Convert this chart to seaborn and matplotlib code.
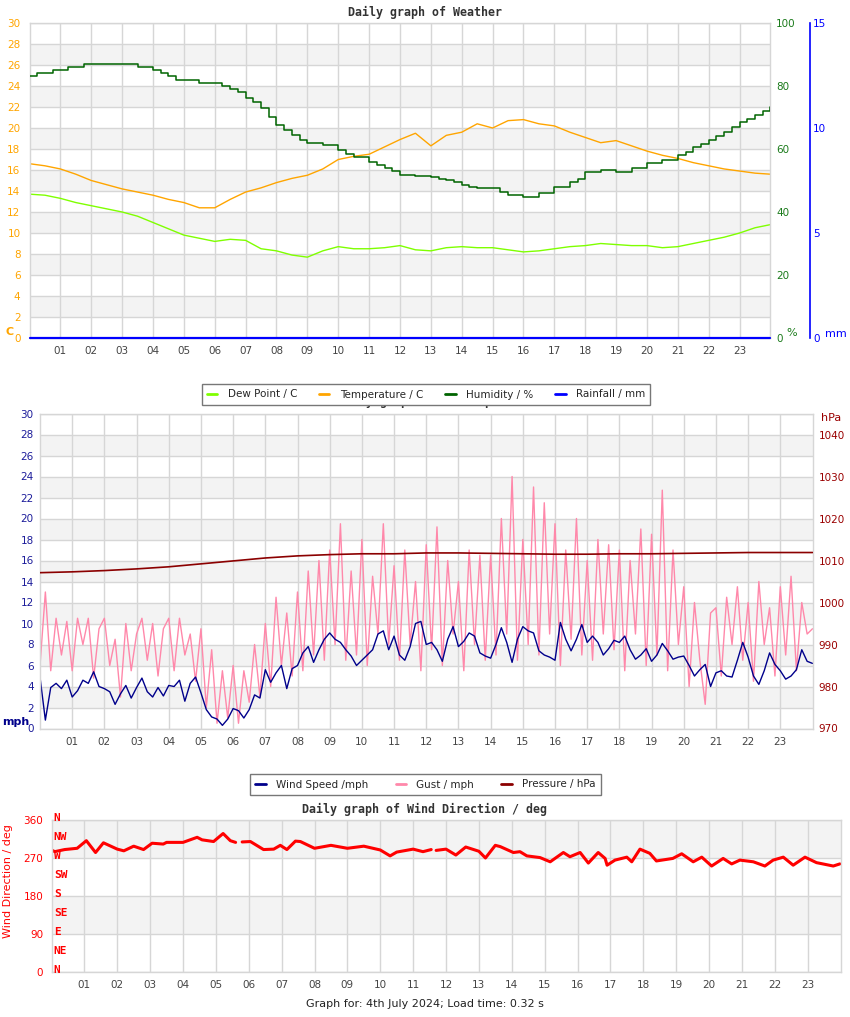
import numpy as np
import pandas as pd
import seaborn as sns
import matplotlib.pyplot as plt
from matplotlib.lines import Line2D
from matplotlib.transforms import blended_transform_factory

# ---------------- data ----------------
# weather chart, half-hourly readings
half_hours = np.arange(0, 24.01, 0.5)
temperature = [16.6, 16.4, 16.1, 15.6, 15.0, 14.6, 14.2, 13.9, 13.6, 13.2,
               12.9, 12.4, 12.4, 13.2, 13.9, 14.3, 14.8, 15.2, 15.5, 16.1,
               17.0, 17.3, 17.5, 18.2, 18.9, 19.5, 18.3, 19.3, 19.6, 20.4,
               20.0, 20.7, 20.8, 20.4, 20.2, 19.6, 19.1, 18.6, 18.8, 18.3,
               17.8, 17.4, 17.1, 16.7, 16.4, 16.1, 15.9, 15.7, 15.6]
dew_point = [13.7, 13.6, 13.3, 12.9, 12.6, 12.3, 12.0, 11.6, 11.0, 10.4,
             9.8, 9.5, 9.2, 9.4, 9.3, 8.5, 8.3, 7.9, 7.7, 8.3,
             8.7, 8.5, 8.5, 8.6, 8.8, 8.4, 8.3, 8.6, 8.7, 8.6,
             8.6, 8.4, 8.2, 8.3, 8.5, 8.7, 8.8, 9.0, 8.9, 8.8,
             8.8, 8.6, 8.7, 9.0, 9.3, 9.6, 10.0, 10.5, 10.8]
rainfall = [0.0] * 49

# humidity, quarter-hourly (whole-percent steps)
quarter_hours = np.arange(0, 24.01, 0.25)
humidity = [83.1, 84.1, 84.1, 85.0,  85.0, 86.0, 86.0, 86.9,  86.9, 86.9, 86.9, 86.9,
            86.9, 86.9, 86.0, 86.0,  85.0, 84.1, 83.1, 81.9,  81.9, 81.9, 80.8, 80.8,
            80.8, 79.9, 79.0, 78.0,  76.1, 74.8, 72.9, 70.3,  67.5, 66.0, 64.5, 63.0,
            62.0, 62.0, 61.3, 61.3,  59.7, 58.5, 57.5, 57.5,  56.0, 55.0, 54.0, 53.0,
            51.7, 51.7, 51.5, 51.5,  51.0, 50.5, 50.2, 49.5,  48.6, 48.0, 47.6, 47.6,
            47.6, 46.5, 45.4, 45.4,  44.8, 44.8, 46.0, 46.0,  48.0, 48.0, 49.5, 50.5,
            52.7, 52.7, 53.3, 53.3,  52.7, 52.7, 54.0, 54.0,  55.6, 55.6, 56.5, 56.5,
            58.0, 59.0, 60.6, 61.5,  62.9, 64.0, 65.4, 67.0,  68.6, 69.5, 70.8, 72.0,
            73.3]

# wind chart, 10-minute readings (6 per hour)
ten_minutes = np.arange(0, 24.01, 1 / 6)
wind_speed = [4.9, 0.8, 3.9, 4.3, 3.8, 4.6,   3.0, 3.6, 4.6, 4.3, 5.4, 4.0,
              3.8, 3.5, 2.3, 3.3, 4.1, 2.9,   3.9, 4.8, 3.5, 3.0, 3.9, 3.1,
              4.1, 4.0, 4.6, 2.6, 4.3, 4.9,   3.4, 1.8, 1.1, 0.9, 0.3, 0.9,
              1.9, 1.7, 1.0, 1.8, 3.2, 2.9,   5.6, 4.4, 5.3, 6.0, 3.8, 5.7,
              6.0, 7.2, 7.8, 6.3, 7.5, 8.5,   9.1, 8.5, 8.2, 7.5, 6.9, 6.0,
              6.5, 7.0, 7.5, 9.0, 9.3, 7.5,   8.8, 7.0, 6.5, 7.8, 10.0, 10.2,
              8.0, 8.2, 7.5, 6.4, 8.5, 9.7,   7.8, 8.3, 9.1, 8.8, 7.2, 6.9,
              6.7, 8.0, 9.6, 8.2, 6.3, 8.5,   9.7, 9.3, 9.1, 7.4, 7.0, 6.8,
              6.5, 10.1, 8.5, 7.4, 8.5, 9.9,  8.2, 8.8, 8.2, 7.0, 7.6, 8.4,
              8.2, 8.8, 7.5, 6.6, 7.0, 7.6,   6.4, 7.0, 8.1, 7.4, 6.6, 6.8,
              6.9, 6.0, 5.0, 5.6, 6.1, 4.0,   5.3, 5.5, 5.0, 4.9, 6.5, 8.2,
              6.8, 5.0, 4.2, 5.5, 7.2, 6.1,   5.5, 4.7, 5.0, 5.6, 7.5, 6.4,
              6.2]
gust = [6.0, 13.0, 5.5, 10.5, 7.0, 10.2,   5.5, 10.5, 8.0, 10.5, 4.8, 9.5,
        10.5, 6.0, 8.5, 3.0, 10.0, 5.5,   9.0, 10.5, 6.5, 10.0, 5.0, 9.5,
        10.5, 5.5, 10.5, 7.0, 9.0, 4.5,   9.5, 2.0, 7.5, 0.5, 5.5, 1.0,
        6.0, 0.5, 5.5, 2.5, 8.0, 3.0,     10.0, 4.0, 12.5, 6.0, 11.0, 5.0,
        13.0, 5.5, 15.0, 7.0, 16.0, 6.5,  17.0, 8.0, 19.5, 6.5, 15.0, 7.0,
        18.0, 6.0, 14.5, 9.0, 19.5, 8.0,  15.5, 6.5, 17.0, 8.0, 14.0, 5.5,
        17.5, 7.5, 19.2, 6.0, 16.0, 9.0,  14.0, 5.5, 17.0, 8.0, 16.5, 6.5,
        16.5, 7.0, 20.0, 9.0, 24.0, 6.5,  18.0, 8.0, 23.0, 7.0, 21.5, 9.0,
        19.5, 6.0, 17.0, 8.5, 20.0, 7.0,  16.0, 6.5, 18.0, 9.0, 17.5, 7.5,
        17.0, 5.5, 16.0, 9.0, 19.0, 6.0,  18.5, 7.0, 22.7, 5.5, 17.0, 8.0,
        13.5, 4.0, 12.0, 6.5, 2.3, 11.0,  11.5, 5.0, 12.5, 8.0, 13.5, 6.5,
        12.0, 4.5, 14.0, 8.0, 11.5, 5.0,  13.5, 7.0, 14.5, 5.5, 12.0, 9.0,
        9.5]
hours = np.arange(0, 25)
pressure = [1007.1, 1007.3, 1007.6, 1008.0, 1008.5, 1009.2, 1009.9, 1010.6,
            1011.1, 1011.4, 1011.6, 1011.6, 1011.8, 1011.8, 1011.7, 1011.6,
            1011.5, 1011.5, 1011.6, 1011.6, 1011.7, 1011.8, 1011.9, 1011.9,
            1011.9]

# wind direction (nan = gap in the record)
dir_hours = [0.0, 0.1, 0.4, 0.78, 1.06, 1.34, 1.58, 2.0, 2.2, 2.5, 2.8, 3.06,
             3.4, 3.5, 4.0, 4.43, 4.58, 4.93, 5.22, 5.44, 5.6, 5.7, 5.8, 6.05,
             6.45, 6.76, 6.96, 7.16, 7.42, 7.57, 8.0, 8.5, 9.0, 9.5, 10.0,
             10.3, 10.5, 11.0, 11.3, 11.55, 11.62, 11.7, 12.0, 12.3, 12.6,
             13.0, 13.2, 13.5, 13.65, 14.05, 14.25, 14.46, 14.86, 15.17,
             15.57, 15.77, 16.08, 16.33, 16.63, 16.84, 16.9, 17.14, 17.5,
             17.65, 17.9, 18.2, 18.4, 18.9, 19.17, 19.52, 19.78, 20.08, 20.43,
             20.69, 20.94, 21.35, 21.7, 21.95, 22.26, 22.56, 22.92, 23.27,
             23.78, 23.98]
dir_deg = [289, 285, 290, 293, 311, 283, 306, 291, 287, 298, 290, 305,
           303, 307, 307, 319, 313, 309, 328, 311, 307, np.nan, 308, 309,
           290, 291, 300, 290, 310, 309, 293, 300, 293, 298, 289,
           275, 284, 291, 285, 290, np.nan, 288, 291, 277, 296,
           286, 270, 300, 297, 283, 285, 275, 271, 261,
           283, 273, 283, 258, 283, 269, 253, 265, 272,
           261, 291, 281, 263, 269, 280, 261, 272, 251, 269,
           256, 265, 261, 251, 265, 272, 253, 272, 259,
           251, 256]

compass = ["N", "NE", "E", "SE", "S", "SW", "W", "NW", "N"]
compass_deg = [0, 45, 90, 135, 180, 225, 270, 315, 360]
hour_labels = [f"{h:02d}" for h in range(1, 24)]

# ---------------- style ----------------
sns.set_style("white")
plt.rcParams["font.family"] = ["DejaVu Sans"]

GRID = "#d6d6d6"
BAND = "#f3f3f3"
TICK = "#444444"
W, H = 850, 1017


def fx(px):
    return px / W


def fy(py):
    return 1 - py / H


def base_axes(ax, ymax, step, bands, ycolor, ypad):
    ax.set_xlim(0, 24)
    ax.set_ylim(0, ymax)
    ax.set_xticks(range(1, 24))
    ax.set_xticklabels(hour_labels)
    ax.set_yticks(np.arange(0, ymax + 0.1, step))
    for lo, hi in bands:
        ax.axhspan(lo, hi, color=BAND, lw=0, zorder=0)
    ax.grid(True, color=GRID, lw=1)
    ax.set_axisbelow(True)
    ax.tick_params(axis="x", length=0, pad=6, labelsize=7.5, labelcolor=TICK)
    ax.tick_params(axis="y", length=0, pad=ypad, labelsize=7.5, labelcolor=ycolor)
    for s in ax.spines.values():
        s.set_color(GRID)
        s.set_linewidth(1)
    ax.set_xlabel("")
    ax.set_ylabel("")


def twin_axes(ax):
    tw = ax.twinx()
    tw.grid(False)
    for s in tw.spines.values():
        s.set_visible(False)
    return tw


def title(y, text):
    fig.text(0.5, fy(y), text, ha="center", va="center", family="DejaVu Sans Mono",
             weight="bold", fontsize=8.4, color="#333333", zorder=1)


fig = plt.figure(figsize=(8.5, 10.17), dpi=100)

# ---------------- weather chart ----------------
ax1 = fig.add_axes([fx(29.5), fy(338), (770.5 - 29.5) / W, 315 / H])
sns.lineplot(x=half_hours, y=temperature, ax=ax1, color="#ffa500", lw=1, legend=False)
sns.lineplot(x=half_hours, y=dew_point, ax=ax1, color="#7fff00", lw=1, legend=False)
base_axes(ax1, 30, 2, [(lo, lo + 2) for lo in range(2, 30, 4)], "#ffa500", 6.5)

ax1h = twin_axes(ax1)
sns.lineplot(x=quarter_hours, y=humidity, ax=ax1h, color="#006400", lw=1.1,
             drawstyle="steps-post", legend=False)
ax1h.set_ylim(0, 100)
ax1h.set_yticks(range(0, 101, 20))
ax1h.tick_params(axis="y", length=0, pad=4, labelsize=7.5, labelcolor="#1a7a1a")
ax1h.set_ylabel("")

ax1r = twin_axes(ax1)
sns.lineplot(x=half_hours, y=rainfall, ax=ax1r, color="#0000ff", lw=1.6,
             clip_on=False, legend=False)
ax1r.set_ylim(0, 15)
ax1r.set_yticks([0, 5, 10, 15])
ax1r.spines["right"].set_visible(True)
ax1r.spines["right"].set_position(("axes", (810.5 - 29.5) / 741))
ax1r.spines["right"].set_color("#0000ff")
ax1r.spines["right"].set_linewidth(1.2)
ax1r.tick_params(axis="y", length=0, pad=2, labelsize=7.5, labelcolor="#0000ff")
ax1r.set_ylabel("")

title(12, "Daily graph of Weather")
fig.text(fx(5), fy(332), "C", color="#ffa500", weight="bold", fontsize=8, va="center")
fig.text(fx(786), fy(333), "%", color="#1a7a1a", fontsize=8, va="center")
fig.text(fx(825), fy(334), "mm", color="#0000ff", fontsize=8, va="center")

# ---------------- wind chart ----------------
ax2 = fig.add_axes([fx(40), fy(728.5), (812.5 - 40) / W, 315 / H])
sns.lineplot(x=ten_minutes, y=gust, ax=ax2, color="#ff88aa", lw=1, legend=False)
sns.lineplot(x=ten_minutes, y=wind_speed, ax=ax2, color="#00008b", lw=1, legend=False)
base_axes(ax2, 30, 2, [(lo, lo + 2) for lo in range(2, 30, 4)], "#1c1c9a", 4.5)

ax2p = twin_axes(ax2)
sns.lineplot(x=hours, y=pressure, ax=ax2p, color="#8b0000", lw=1.2, legend=False)
ax2p.set_ylim(970, 1045)
ax2p.set_yticks(range(970, 1041, 10))
ax2p.tick_params(axis="y", length=0, pad=4.5, labelsize=7.5, labelcolor="#9a0000")
ax2p.set_ylabel("")

# wind chart title sits behind the weather legend, as in the original page
title(401, "Daily graph of Wind Speed")
fig.text(fx(2), fy(722), "mph", color="#00008b", weight="bold", fontsize=8, va="center")
fig.text(fx(821), fy(418), "hPa", color="#9a0000", fontsize=8, va="center")

# ---------------- wind direction chart ----------------
ax3 = fig.add_axes([fx(51.5), fy(972), (840.5 - 51.5) / W, 152 / H])
dir_df = pd.DataFrame({"hour": dir_hours, "deg": dir_deg})
dir_df["seg"] = dir_df["deg"].isna().cumsum()
dir_df = dir_df.dropna()
sns.lineplot(data=dir_df, x="hour", y="deg", units="seg", estimator=None, ax=ax3,
             color="#ff0000", lw=2.2, legend=False)
base_axes(ax3, 360, 90, [(90, 180), (270, 360)], "#ff0000", 6)
trans = blended_transform_factory(ax3.transAxes, ax3.transData)
for lab, d in zip(compass, compass_deg):
    ax3.text(0.003, d + 4, lab, transform=trans, color="#ff0000", ha="left", va="center",
             family="DejaVu Sans Mono", weight="bold", fontsize=8, clip_on=False)

title(809, "Daily graph of Wind Direction / deg")
fig.text(fx(8), fy(881), "Wind Direction / deg", color="#ff0000", fontsize=8,
         rotation=90, ha="center", va="center")

# ---------------- legends ----------------
weather_handles = [Line2D([], [], color=c, lw=2) for c in
                   ["#7fff00", "#ffa500", "#006400", "#0000ff"]]
leg1 = fig.legend(weather_handles, ["Dew Point / C", "Temperature / C", "Humidity / %",
                                    "Rainfall / mm"],
                  loc="center", bbox_to_anchor=(fx(426), fy(394.5)), ncol=4,
                  fontsize=7.5, handlelength=1.0, handletextpad=1.0, columnspacing=2.1,
                  frameon=True, fancybox=False, framealpha=1, edgecolor="#777777",
                  borderpad=0.5)
leg1.get_frame().set_linewidth(1)

wind_handles = [Line2D([], [], color=c, lw=2) for c in ["#00008b", "#ff88aa", "#8b0000"]]
leg2 = fig.legend(wind_handles, ["Wind Speed /mph", "Gust / mph", "Pressure / hPa"],
                  loc="center", bbox_to_anchor=(fx(425.5), fy(784.5)), ncol=3,
                  fontsize=7.5, handlelength=1.0, handletextpad=1.0, columnspacing=2.6,
                  frameon=True, fancybox=False, framealpha=1, edgecolor="#777777",
                  borderpad=0.55)
leg2.get_frame().set_linewidth(1)

fig.text(0.5, fy(1004), "Graph for: 4th July 2024; Load time: 0.32 s", ha="center",
         va="center", fontsize=8, color="#222222")

fig.savefig("out.png", dpi=100)
